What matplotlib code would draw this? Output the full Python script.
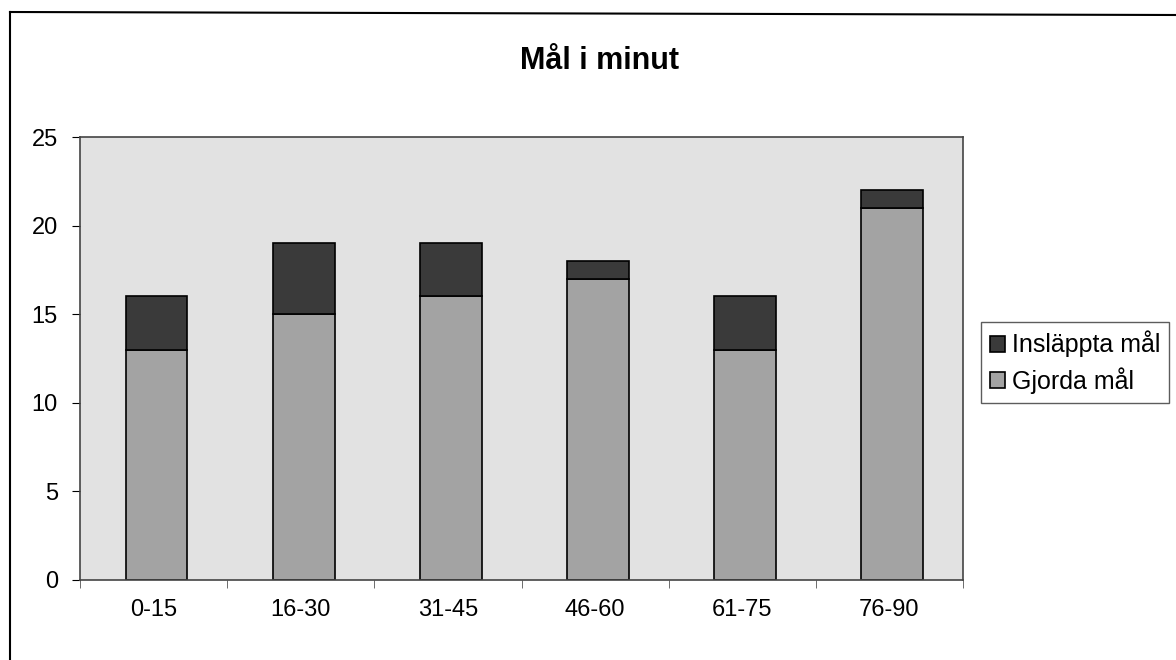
import matplotlib.pyplot as plt
from matplotlib.lines import Line2D
import numpy as np

plt.rcParams['font.family'] = ['Liberation Sans', 'DejaVu Sans']

categories = ["0-15", "16-30", "31-45", "46-60", "61-75", "76-90"]
gjorda = [13, 15, 16, 17, 13, 21]
inslappta = [3, 4, 3, 1, 3, 1]

fig = plt.figure(figsize=(11.76, 6.6), dpi=100)
fig.patch.set_facecolor("white")
ax = fig.add_axes([80 / 1176, 1 - 580 / 660, 883 / 1176, 443 / 660])
ax.set_facecolor("#e2e2e2")

x = np.arange(len(categories))
b1 = ax.bar(x + 0.02, gjorda, width=0.42, color="#a3a3a3", edgecolor="black", linewidth=1.2, label="Gjorda mål")
b2 = ax.bar(x + 0.02, inslappta, width=0.42, bottom=gjorda, color="#3a3a3a", edgecolor="black", linewidth=1.2, label="Insläppta mål")

ax.set_xlim(-0.5, len(categories) - 0.5)
ax.set_ylim(0, 25)
ax.set_yticks([0, 5, 10, 15, 20, 25])
ax.set_xticks(x)
ax.set_xticklabels(categories)
ax.set_xticks(np.arange(len(categories) + 1) - 0.5, minor=True)
ax.tick_params(axis="x", which="major", length=0, pad=14, labelsize=17)
ax.tick_params(axis="x", which="minor", length=6, direction="out", color="#555555")
ax.tick_params(axis="y", length=6, direction="out", labelsize=17, pad=10)
for s in ax.spines.values():
    s.set_color("#444444")
    s.set_linewidth(1.2)

fig.text(600 / 1176, 1 - 61 / 660, "Mål i minut", fontsize=22, fontweight="bold",
         ha="center", va="center")

leg = fig.legend([b2, b1], ["Insläppta mål", "Gjorda mål"], loc="upper left",
                 bbox_to_anchor=(981 / 1176, 1 - 322 / 660), fontsize=18,
                 fancybox=False, edgecolor="#333333", handlelength=0.6, handleheight=0.6,
                 handletextpad=0.3, borderpad=0.35, labelspacing=0.4, borderaxespad=0, shadow=False)
leg.get_frame().set_linewidth(1.0)

# outer chart border
fig.add_artist(Line2D([10 / 1176, 10 / 1176], [0, 1 - 12 / 660], color="black", linewidth=1.5))
fig.add_artist(Line2D([10 / 1176, 1], [1 - 12 / 660, 1 - 15 / 660], color="black", linewidth=1.5))

fig.savefig("out.png", dpi=100)
